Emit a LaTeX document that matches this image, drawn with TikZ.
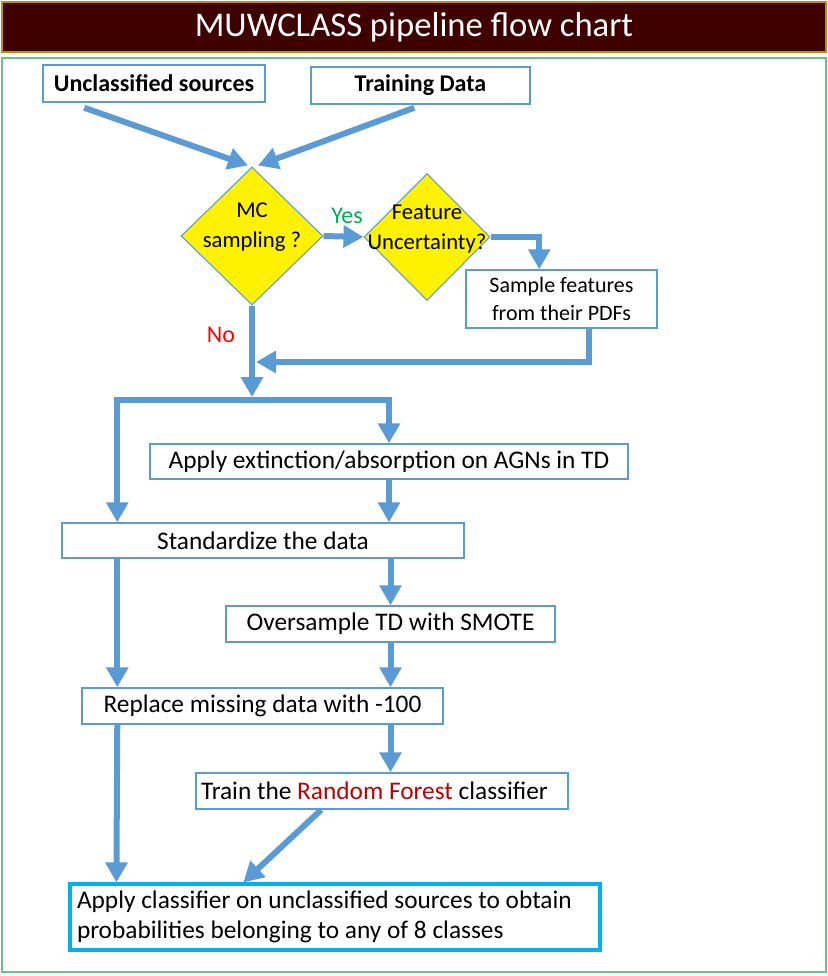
\documentclass[tikz,border=0pt]{standalone}
\usepackage{fontspec}
\setmainfont{Carlito}
\usepackage{tikz}
\usetikzlibrary{arrows.meta,positioning,calc,shapes.geometric}
\definecolor{flowblue}{HTML}{5B9BD5}
\definecolor{titlefill}{HTML}{3F0000}
\definecolor{titleedge}{HTML}{BF9000}
\definecolor{framegreen}{HTML}{6CC18A}
\definecolor{applyedge}{HTML}{00B0F0}
\definecolor{yesgreen}{HTML}{00B050}
\definecolor{nored}{HTML}{FF0000}
\definecolor{rfred}{HTML}{C00000}
\newcommand{\px}{0.75pt}

\begin{document}
\begin{tikzpicture}[x=0.75pt, y=-0.75pt,
  titlebar/.style={draw=titleedge, line width=1.2pt, fill=titlefill, text=white, inner sep=0pt, font=\fontsize{26}{30}\selectfont},
  srcbox/.style={draw=flowblue, line width=1.1pt, fill=white, inner sep=0pt, align=center, font=\fontsize{18}{22}\selectfont\bfseries},
  stepbox/.style={draw=flowblue, line width=1.1pt, fill=white, inner sep=0pt, align=center, font=\fontsize{19}{23}\selectfont},
  smallbox/.style={draw=flowblue, line width=1.1pt, fill=white, inner sep=0pt, align=center, font=\fontsize{16.5}{20.5}\selectfont},
  decision/.style={diamond, draw=flowblue, line width=0.8pt, fill=yellow, inner sep=0pt},
  dtext/.style={align=center, inner sep=0pt, font=\fontsize{17}{22}\selectfont},
  answer/.style={inner sep=0pt, font=\fontsize{18}{21}\selectfont},
  flow/.style={draw=flowblue, line width=4.5pt, -{Triangle[length=15pt,width=16pt]}}
]
  \useasboundingbox (0,0) rectangle (828,976);
  \node[draw=framegreen, line width=1pt, minimum width=824*\px, minimum height=914*\px, inner sep=0pt] (frame) at (414,515) {};
  \node[titlebar, minimum width=824*\px, minimum height=50*\px] (title) at (414,27) {MUWCLASS pipeline flow chart};

  \node[srcbox, minimum width=222*\px, minimum height=37*\px] (unclass) at (154,83.5) {Unclassified sources};
  \node[srcbox, minimum width=219*\px, minimum height=37*\px] (train) at (420.5,85.5) {Training Data};
  \node[decision, minimum width=142*\px, minimum height=138*\px] (mc) at (252,236) {};
  \node[dtext] (mctext) at (252,227) {MC\\sampling ?};
  \node[decision, minimum width=126*\px, minimum height=127*\px] (feat) at (427,237) {};
  \node[dtext] (feattext) at (427,229) {Feature\\Uncertainty?};
  \node[smallbox, minimum width=191*\px, minimum height=58*\px] (sample) at (561.5,299) {Sample features\\from their PDFs};
  \node[answer, text=yesgreen] (yes) at (347,216) {Yes};
  \node[answer, text=nored] (no) at (221,335) {No};
  \node[stepbox, minimum width=478*\px, minimum height=35*\px] (ext) at (389,461.5) {Apply extinction/absorption on AGNs in TD};
  \node[stepbox, minimum width=402*\px, minimum height=35*\px] (std) at (263,540.5) {Standardize the data};
  \node[stepbox, minimum width=329*\px, minimum height=36*\px] (over) at (390.5,624) {Oversample TD with SMOTE};
  \node[stepbox, minimum width=361*\px, minimum height=36*\px] (repl) at (262.5,706) {Replace missing data with -100};
  \node[stepbox, align=flush left, text width=362*\px, inner xsep=5*\px, minimum height=36*\px] (rf) at (382,791) {Train the \textcolor{rfred}{Random Forest} classifier};
  \node[stepbox, draw=applyedge, line width=2.4pt, align=flush left, text width=516*\px, inner xsep=7*\px, minimum height=66*\px] (apply) at (335,917) {Apply classifier on unclassified sources to obtain\\probabilities belonging to any of 8 classes};

  \coordinate (merge) at (256,362);
  \coordinate (fork) at (252,400);

  \draw[flow] ($(unclass.south west)+(42,5)$) -- ($(mc.north)+(-4,-1)$);
  \draw[flow] ($(train.south west)+(104,3)$) -- ($(mc.north)+(6,-1)$);
  \draw[flow] (mc.east) -- (feat.west);
  \draw[flow] (feat.east) -| ($(sample.north west)+(74,0)$);
  \draw[flow] ($(sample.south west)+(124,0)$) |- (merge);
  \draw[flow] (mc.south) -- ($(fork)+(0,-3)$);
  \draw[flow] (fork) -| (ext.north);
  \draw[flow] (fork) -| ($(std.north west)+(56,0)$);
  \draw[flow] (ext.south) -- (ext.south |- std.north);
  \draw[flow] (over.north |- std.south) -- (over.north);
  \draw[flow] ($(std.south west)+(56,0)$) -- ($(repl.north west)+(36,0)$);
  \draw[flow] (over.south) -- (over.south |- repl.north);
  \draw[flow] (over.south |- repl.south) -- (over.south |- rf.north);
  \draw[flow] ($(repl.south west)+(36,0)$) -- ($(apply.north west)+(48,0)$);
  \draw[flow] ($(rf.south west)+(126,0)$) -- ($(apply.north west)+(175,0)$);
\end{tikzpicture}
\end{document}
